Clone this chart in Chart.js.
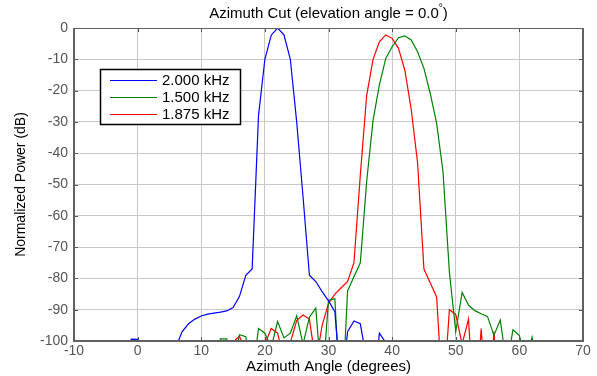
<!DOCTYPE html>
<html>
<head>
<meta charset="utf-8">
<script src="https://cdn.jsdelivr.net/npm/chart.js@4.4.0/dist/chart.umd.min.js"></script>
<style>
  html, body { margin: 0; padding: 0; background: #fff; }
  #wrap { width: 597px; height: 376px; position: relative; }
</style>
</head>
<body>
<div id="wrap"><canvas id="az-chart"></canvas></div>
<script>
// azimuth angles (degrees), 1 degree steps
var angles = [-10, -9, -8, -7, -6, -5, -4, -3, -2, -1, 0, 1, 2, 3, 4, 5, 6, 7, 8, 9,
  10, 11, 12, 13, 14, 15, 16, 17, 18, 19, 20, 21, 22, 23, 24, 25, 26, 27, 28, 29,
  30, 31, 32, 33, 34, 35, 36, 37, 38, 39, 40, 41, 42, 43, 44, 45, 46, 47, 48, 49,
  50, 51, 52, 53, 54, 55, 56, 57, 58, 59, 60, 61, 62, 63, 64, 65, 66, 67, 68, 69, 70];

// normalized power in dB (values below -100 fall off the plot)
var power2000 = [-120, -120, -120, -120, -120, -120, -120, -120, -115, -99.4,
  -99.5, -115, -120, -120, -120, -118, -102, -97, -94.5, -93,
  -92, -91.4, -91.1, -90.8, -90.4, -89.3, -85.8, -79, -77, -28,
  -10, -2.3, 0, -2.2, -10, -30, -54, -79, -81, -84.2,
  -87.2, -90.6, -116, -97, -93.6, -94.5, -106, -118, -97.5, -100.5,
  -120, -120, -120, -120, -120, -120, -120, -120, -120, -120,
  -120, -120, -120, -120, -120, -120, -120, -120, -120, -120,
  -120, -120, -120, -120, -120, -120, -120, -120, -120, -120, -120];

var power1500 = [-120, -120, -120, -120, -120, -120, -120, -120, -120, -120,
  -120, -120, -120, -120, -120, -120, -120, -120, -120, -120,
  -120, -120, -115, -99.3, -99.3, -110, -98, -98.6, -112, -96,
  -97.5, -102, -93.8, -99, -97.5, -92, -101, -92.4, -89.5, -115,
  -87, -86.5, -125, -84, -79.5, -75, -49, -29.5, -18.2, -9.7,
  -6, -3.1, -2.5, -3.8, -7.6, -12.9, -21, -30.5, -46, -78,
  -97, -84.5, -88.5, -90.3, -91.3, -92.2, -98.2, -93.3, -108, -96.4,
  -98.3, -106, -98.8, -110, -120, -120, -120, -120, -120, -120, -120];

var power1875 = [-120, -120, -120, -120, -120, -120, -120, -120, -120, -120,
  -120, -120, -120, -120, -120, -120, -120, -120, -120, -120,
  -120, -120, -120, -120, -110, -100.3, -98.5, -103, -120, -115,
  -101, -96, -97.5, -106, -100.5, -93.5, -91.7, -93, -107, -95,
  -88, -85, -83, -81, -75, -47, -21.5, -10, -4.4, -2.2,
  -3.3, -6.5, -13.5, -26, -43, -77, -81.5, -86, -120, -90,
  -91.5, -101, -93, -125, -96, -125, -97, -125, -99.6, -125,
  -120, -120, -120, -120, -120, -120, -120, -120, -120, -120, -120];

var seriesLabels = ['2.000 kHz', '1.500 kHz', '1.875 kHz'];
var seriesColors = ['#0000ff', '#008000', '#ff0000'];
var xTicks = [-10, 0, 10, 20, 30, 40, 50, 60, 70];
var yTicks = [0, -10, -20, -30, -40, -50, -60, -70, -80, -90, -100];

var fontFam = "'Liberation Sans', Arial, sans-serif";

function toPoints(vals) {
  return angles.map(function(a, i) { return { x: a, y: vals[i] }; });
}

// title, inward tick marks, box border and legend box
var decorPlugin = {
  id: 'decor',
  afterDraw: function(chart) {
    var c = chart.ctx, a = chart.chartArea;
    var xs = chart.scales.x, ys = chart.scales.y;
    c.save();

    // title with raised degree sign
    c.fillStyle = '#000';
    c.textBaseline = 'middle';
    var t1 = 'Azimuth Cut (elevation angle = 0.0', t3 = ')';
    c.font = '10px ' + fontFam;
    var w2 = c.measureText('°').width;
    c.font = '15px ' + fontFam;
    var w1 = c.measureText(t1).width, w3 = c.measureText(t3).width;
    var cx = (a.left + a.right) / 2;
    var x0 = cx - (w1 + w2 + w3) / 2;
    c.textAlign = 'left';
    c.fillText(t1, x0, 14);
    c.font = '10px ' + fontFam;
    c.fillText('°', x0 + w1, 8);
    c.font = '15px ' + fontFam;
    c.fillText(t3, x0 + w1 + w2, 14);

    // inward tick marks
    c.strokeStyle = '#555';
    c.lineWidth = 1;
    c.beginPath();
    xTicks.forEach(function(v) {
      var px = Math.round(xs.getPixelForValue(v)) + 0.5;
      c.moveTo(px, a.top); c.lineTo(px, a.top + 4);
      c.moveTo(px, a.bottom); c.lineTo(px, a.bottom - 4);
    });
    yTicks.forEach(function(v) {
      var py = Math.round(ys.getPixelForValue(v)) + 0.5;
      c.moveTo(a.left, py); c.lineTo(a.left + 4, py);
      c.moveTo(a.right, py); c.lineTo(a.right - 4, py);
    });
    c.stroke();

    // axes box
    c.strokeStyle = '#606060';
    c.lineWidth = 1;
    c.beginPath();
    c.moveTo(a.left, a.top + 0.5); c.lineTo(a.right, a.top + 0.5);
    c.stroke();
    c.lineWidth = 2;
    c.beginPath();
    c.moveTo(a.left, a.top); c.lineTo(a.left, a.bottom);
    c.lineTo(a.right, a.bottom); c.lineTo(a.right, a.top);
    c.stroke();

    // legend box
    var lx = 100, ly = 69, lw = 140, lh = 55;
    c.fillStyle = '#fff';
    c.fillRect(lx, ly, lw, lh);
    c.strokeStyle = '#000';
    c.lineWidth = 1.5;
    c.strokeRect(lx + 0.5, ly + 0.5, lw, lh);
    c.font = '15px ' + fontFam;
    c.textAlign = 'left';
    c.textBaseline = 'middle';
    chart.data.datasets.forEach(function(ds, i) {
      var ry = ly + 11 + i * 17;
      c.strokeStyle = ds.borderColor;
      c.lineWidth = 1.2;
      c.beginPath();
      c.moveTo(lx + 10, ry + 0.5); c.lineTo(lx + 57, ry + 0.5);
      c.stroke();
      c.fillStyle = '#000';
      c.fillText(ds.label, lx + 62, ry + 1);
    });
    c.restore();
  }
};

var ctx = document.getElementById('az-chart').getContext('2d');
var azChart = new Chart(ctx, {
  type: 'line',
  data: {
    datasets: [0, 1, 2].map(function(i) {
      return {
        label: seriesLabels[i],
        data: toPoints([power2000, power1500, power1875][i]),
        borderColor: seriesColors[i],
        backgroundColor: seriesColors[i],
        borderWidth: 1.2,
        pointRadius: 0,
        tension: 0,
        fill: false
      };
    })
  },
  options: {
    responsive: true,
    maintainAspectRatio: false,
    animation: false,
    layout: { padding: { top: 28, right: 14, left: 0, bottom: 0 } },
    plugins: {
      legend: { display: false },
      title: { display: false },
      tooltip: { enabled: false }
    },
    scales: {
      x: {
        type: 'linear',
        min: -10,
        max: 70,
        afterFit: function(s) { s.height = 35; },
        afterBuildTicks: function(s) { s.ticks = xTicks.map(function(v) { return { value: v }; }); },
        ticks: { color: '#555', font: { family: fontFam, size: 14 }, padding: 2, autoSkip: false, maxRotation: 0 },
        grid: { color: '#c8c8c8', drawTicks: false },
        border: { display: false },
        title: { display: true, text: 'Azimuth Angle (degrees)', color: '#000',
          font: { family: fontFam, size: 15 }, padding: { top: 0, bottom: 0 } }
      },
      y: {
        min: -100,
        max: 0,
        afterFit: function(s) { s.width = 74; },
        afterBuildTicks: function(s) { s.ticks = yTicks.map(function(v) { return { value: v }; }); },
        ticks: { color: '#555', font: { family: fontFam, size: 14 }, padding: 6, autoSkip: false },
        grid: { color: '#c8c8c8', drawTicks: false },
        border: { display: false },
        title: { display: true, text: 'Normalized Power (dB)', color: '#000',
          font: { family: fontFam, size: 14 }, padding: { top: 13, bottom: 0 } }
      }
    }
  },
  plugins: [decorPlugin]
});
</script>
</body>
</html>
